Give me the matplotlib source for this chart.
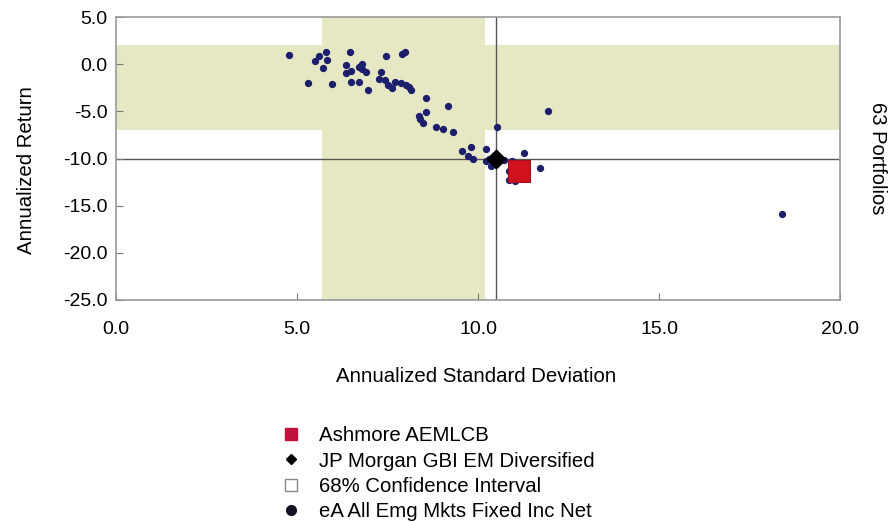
import matplotlib.pyplot as plt
from matplotlib.lines import Line2D

plt.rcParams['font.family'] = ['Liberation Sans', 'DejaVu Sans']

# eA All Emg Mkts Fixed Inc Net universe (63 portfolios)
std_dev = [4.78, 5.31, 5.49, 5.62, 5.79, 5.84, 5.72, 5.96, 6.46, 6.35, 6.48, 6.35,
           6.50, 6.70, 6.72, 6.80, 6.79, 6.90, 6.96, 7.46, 7.33, 7.27, 7.44, 7.51,
           7.63, 7.72, 7.90, 7.97, 7.88, 8.00, 8.09, 8.15,
           8.57, 9.17, 8.56, 8.36, 8.41, 8.48, 8.84, 9.03, 9.31,
           9.56, 9.81, 10.22, 9.73, 9.85, 10.22, 10.36, 10.71, 10.94, 11.26, 11.70,
           10.85, 10.85, 11.03,
           10.52, 11.93, 18.40,
           10.45, 10.40, 11.00, 11.20, 10.30]
returns = [0.99, -1.95, 0.38, 0.88, 1.24, 0.46, -0.43, -2.13, 1.34, -0.07, -0.68, -0.96,
           -1.92, -1.92, -0.32, 0.03, -0.53, -0.78, -2.73, 0.88, -0.85, -1.56, -1.67, -2.20,
           -2.49, -1.85, 1.10, 1.34, -2.02, -2.20, -2.45, -2.73,
           -3.59, -4.47, -5.04, -5.50, -5.85, -6.21, -6.70, -6.91, -7.17,
           -9.19, -8.83, -8.94, -9.76, -10.00, -10.25, -10.79, -10.18, -10.25, -9.40, -11.00,
           -11.32, -12.23, -12.38,
           -6.64, -4.94, -15.90,
           -10.10, -9.90, -11.00, -11.60, -10.00]

# Ashmore AEMLCB
fund_sd = 11.13
fund_ret = -11.35

# JP Morgan GBI EM Diversified
bench_sd = 10.5
bench_ret = -10.0

# 68% confidence interval
ci_sd = [5.7, 10.2]
ci_ret = [-7.0, 2.0]

band_color = '#e6e8c4'
dot_color = '#1c1f6b'
red = '#d0121f'

fig = plt.figure(figsize=(8.88, 5.24), dpi=100)
ax = fig.add_axes([0.1306, 0.4275, 0.8154, 0.540])

ax.axhspan(ci_ret[0], ci_ret[1], color=band_color, lw=0, zorder=0)
ax.axvspan(ci_sd[0], ci_sd[1], color=band_color, lw=0, zorder=0)
ax.axvline(bench_sd, color='#555555', lw=1, zorder=1)
ax.axhline(bench_ret, color='#555555', lw=1, zorder=1)

ax.scatter(std_dev, returns, s=18, color=dot_color, zorder=3)
ax.scatter([bench_sd], [bench_ret], s=90, marker='D', color='black', zorder=4)
ax.scatter([fund_sd], [fund_ret], s=230, marker='s', color=red, edgecolor='#a01020', lw=0.8, zorder=5)

ax.set_xlim(0, 20)
ax.set_ylim(-25, 5)
ax.set_xticks([0, 5, 10, 15, 20])
ax.set_yticks([5, 0, -5, -10, -15, -20, -25])
ax.set_xticklabels(['0.0', '5.0', '10.0', '15.0', '20.0'])
ax.set_yticklabels(['5.0', '0.0', '-5.0', '-10.0', '-15.0', '-20.0', '-25.0'])
ax.tick_params(direction='in', length=5, color='#777777', labelsize=14)
ax.tick_params(axis='x', pad=15)
ax.tick_params(axis='y', pad=6)
for sp in ax.spines.values():
    sp.set_color('#999999')
    sp.set_linewidth(1.2)

ax.set_xlabel('Annualized Standard Deviation', fontsize=14.7, va='center')
ax.xaxis.set_label_coords(0.498, -0.27)
ax.set_ylabel('Annualized Return', fontsize=14.7, va='center')
ax.yaxis.set_label_coords(-0.124, 0.46)
fig.text(0.988, 0.699, '63 Portfolios', rotation=-90, fontsize=14.5, ha='center', va='center')

handles = [
    Line2D([], [], ls='none', marker='s', ms=8, color='#c0123c'),
    Line2D([], [], ls='none', marker='D', ms=5, color='black'),
    Line2D([], [], ls='none', marker='s', ms=8, mfc='white', mec='#888888'),
    Line2D([], [], ls='none', marker='o', ms=7, color='#111122'),
]
labels = ['Ashmore AEMLCB', 'JP Morgan GBI EM Diversified',
          '68% Confidence Interval', 'eA All Emg Mkts Fixed Inc Net']
fig.legend(handles, labels, loc='upper left', bbox_to_anchor=(0.305, 0.206),
           frameon=False, fontsize=14.7, handlelength=1.0, handletextpad=0.85,
           labelspacing=0.31, borderpad=0)

fig.savefig('out.png', dpi=100)
